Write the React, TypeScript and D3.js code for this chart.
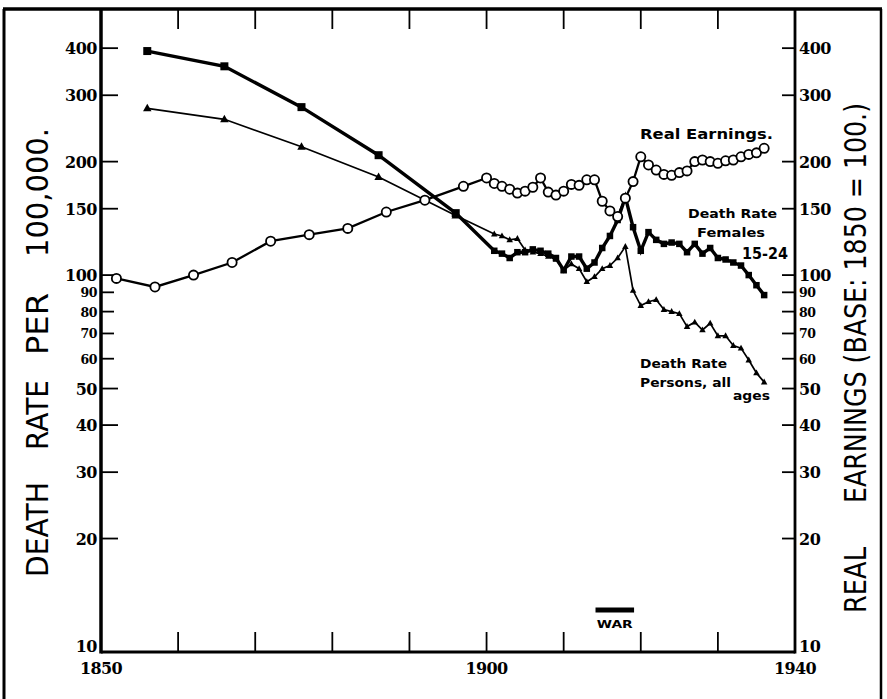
import React from 'react';
import * as d3 from 'd3';

// ---- DATA ----
const earnYears = [1852, 1857, 1862, 1867, 1872, 1877, 1882, 1887, 1892, 1897,
  1900, 1901, 1902, 1903, 1904, 1905, 1906, 1907, 1908, 1909,
  1910, 1911, 1912, 1913, 1914, 1915, 1916, 1917, 1918, 1919,
  1920, 1921, 1922, 1923, 1924, 1925, 1926, 1927, 1928, 1929,
  1930, 1931, 1932, 1933, 1934, 1935, 1936];
const earnValues = [98, 93, 100, 108, 123, 128, 133, 147, 158, 172,
  181, 175, 172, 169, 165, 167, 171, 181, 166, 163,
  167, 174, 173, 179, 179, 157, 148, 143, 160, 177,
  206, 196, 190, 185, 184, 187, 189, 200, 202, 200,
  198, 201, 202, 206, 209, 211, 217];

const deathYears = [1856, 1866, 1876, 1886, 1896,
  1901, 1902, 1903, 1904, 1905, 1906, 1907, 1908, 1909,
  1910, 1911, 1912, 1913, 1914, 1915, 1916, 1917, 1918, 1919,
  1920, 1921, 1922, 1923, 1924, 1925, 1926, 1927, 1928, 1929,
  1930, 1931, 1932, 1933, 1934, 1935, 1936];
const femalesValues = [393, 358, 279, 208, 146,
  116, 114, 111, 115, 115, 117, 116, 114, 111,
  103, 112, 112, 104, 108, 118, 127, 140, 161, 134,
  116, 130, 124, 121, 122, 121, 115, 121, 114, 118,
  111, 110, 108, 106, 100, 94, 88.5];
const personsValues = [277, 259, 219, 182, 144,
  128.5, 127, 124, 125, 116.5, 115, 114, 112, 110,
  103, 107, 104, 96, 99, 104, 106, 111, 119, 91,
  83, 85, 86, 81, 80, 79, 73, 75, 71.5, 74.5,
  69, 69, 65, 64, 59.5, 55, 52];

const yTickValues = [400, 300, 200, 150, 100, 90, 80, 70, 60, 50, 40, 30, 20, 10];
const yMinorLabelled = [90, 80, 70, 60];
const xTickYears = [1860, 1870, 1880, 1890, 1900, 1910, 1920, 1930];
const xLabelYears = [1850, 1900, 1940];
const warYears = [1914, 1919];

// ---- LAYOUT ----
const W = 887, H = 699;
const L = 101, R = 795, T = 10, B = 652;

const x = d3.scaleLinear().domain([1850, 1940]).range([L, R]);
const y = d3.scaleLog().domain([10, 505]).range([B, T]);

const numFont = '"DejaVu Serif", serif';
const handFont = '"DejaVu Sans", sans-serif';

function Triangle({ cx, cy, s }: { cx: number; cy: number; s: number }) {
  const h = s * 0.9;
  return <path d={`M${cx},${cy - h * 0.6}L${cx + s / 2},${cy + h * 0.4}L${cx - s / 2},${cy + h * 0.4}Z`} fill="#000" />;
}

export default function App() {
  const earn = earnYears.map((yr, i) => [yr, earnValues[i]] as [number, number]);
  const fem = deathYears.map((yr, i) => [yr, femalesValues[i]] as [number, number]);
  const per = deathYears.map((yr, i) => [yr, personsValues[i]] as [number, number]);
  const line = d3.line<[number, number]>().x(d => x(d[0])).y(d => y(d[1]));

  return (
    <svg width={W} height={H} style={{ position: 'absolute', left: 0, top: 0, background: '#fff' }}>
      <rect x={0} y={0} width={W} height={H} fill="#fff" />
      {/* outer frame */}
      <line x1={4} y1={9} x2={4} y2={H} stroke="#000" strokeWidth={3} />
      <line x1={881} y1={9} x2={881} y2={H} stroke="#000" strokeWidth={2.5} />
      <line x1={3} y1={9} x2={882} y2={9} stroke="#000" strokeWidth={3.5} />

      {/* plot axes */}
      <line x1={L} y1={T - 1} x2={L} y2={B + 1.5} stroke="#000" strokeWidth={3.5} />
      <line x1={R} y1={T - 1} x2={R} y2={B + 1.5} stroke="#000" strokeWidth={2.8} />
      <line x1={L} y1={B} x2={R} y2={B} stroke="#000" strokeWidth={3.2} />

      {/* x ticks top and bottom */}
      {xTickYears.map(yr => (
        <g key={yr}>
          <line x1={x(yr)} y1={T} x2={x(yr)} y2={T + 19} stroke="#000" strokeWidth={1.8} />
          <line x1={x(yr)} y1={B} x2={x(yr)} y2={B - 20} stroke="#000" strokeWidth={1.8} />
        </g>
      ))}
      {xLabelYears.map(yr => (
        <text key={yr} x={x(yr)} y={B + 22} fontFamily={numFont} fontWeight="bold" fontSize={16}
          textAnchor="middle" letterSpacing={-0.6}>{yr}</text>
      ))}

      {/* y ticks left & right */}
      {yTickValues.map(v => {
        const small = yMinorLabelled.includes(v);
        const fs = small ? 12.5 : 16;
        return (
          <g key={v}>
            {v !== 10 && <line x1={L} y1={y(v)} x2={L + (small ? 13 : 17)} y2={y(v)} stroke="#000" strokeWidth={1.8} />}
            {v !== 10 && <line x1={R} y1={y(v)} x2={R - 13} y2={y(v)} stroke="#000" strokeWidth={1.8} />}
            <text x={L - 4} y={y(v) + (v === 10 ? 0 : small ? 5 : 6)} fontFamily={numFont} fontWeight="bold" fontSize={fs}
              textAnchor="end" letterSpacing={-0.5}>{v}</text>
            <text x={R + 4} y={y(v) + (v === 10 ? 0 : small ? 5 : 6)} fontFamily={numFont} fontWeight="bold" fontSize={fs}
              textAnchor="start" letterSpacing={-0.5}>{v}</text>
          </g>
        );
      })}

      {/* series: persons all ages (thin, triangles) */}
      <path d={line(per) || ''} fill="none" stroke="#000" strokeWidth={1.7} />
      {per.map((d, i) => <Triangle key={'p' + i} cx={x(d[0])} cy={y(d[1])} s={i < 5 ? 8.5 : 6.5} />)}

      {/* series: females 15-24 (thick, squares) */}
      <path d={line(fem) || ''} fill="none" stroke="#000" strokeWidth={3.4} />
      {fem.map((d, i) => {
        const s = i < 5 ? 8 : 6.5;
        return <rect key={'f' + i} x={x(d[0]) - s / 2} y={y(d[1]) - s / 2} width={s} height={s} fill="#000" />;
      })}

      {/* series: real earnings (open circles) */}
      <path d={line(earn) || ''} fill="none" stroke="#000" strokeWidth={2.3} />
      {earn.map((d, i) => (
        <circle key={'e' + i} cx={x(d[0])} cy={y(d[1])} r={4.6} fill="#fff" stroke="#000" strokeWidth={1.8} />
      ))}

      {/* war bar */}
      <line x1={x(warYears[0]) + 1} y1={610} x2={x(warYears[1]) + 1} y2={610} stroke="#000" strokeWidth={5} />
      <text x={(x(warYears[0]) + x(warYears[1])) / 2 + 1} y={628} fontFamily={handFont} fontWeight="bold" fontSize={11}
        textAnchor="middle" textLength={36} lengthAdjust="spacingAndGlyphs">WAR</text>

      {/* series annotations */}
      <text x={640} y={139} fontFamily={handFont} fontWeight="bold" fontSize={14} textLength={133} lengthAdjust="spacingAndGlyphs">Real Earnings.</text>
      <text x={688} y={218} fontFamily={handFont} fontWeight="bold" fontSize={13} textLength={89} lengthAdjust="spacingAndGlyphs">Death Rate</text>
      <text x={697} y={237} fontFamily={handFont} fontWeight="bold" fontSize={13} textLength={68} lengthAdjust="spacingAndGlyphs">Females</text>
      <text x={742} y={259} fontFamily={handFont} fontWeight="bold" fontSize={15} textLength={46} lengthAdjust="spacingAndGlyphs">15-24</text>
      <text x={640} y={368} fontFamily={handFont} fontWeight="bold" fontSize={12.5} textLength={87} lengthAdjust="spacingAndGlyphs">Death Rate</text>
      <text x={640} y={387} fontFamily={handFont} fontWeight="bold" fontSize={12.5} textLength={91} lengthAdjust="spacingAndGlyphs">Persons, all</text>
      <text x={733} y={400} fontFamily={handFont} fontWeight="bold" fontSize={12.5} textLength={37} lengthAdjust="spacingAndGlyphs">ages</text>

      {/* axis titles */}
      <g fontFamily={handFont} fontSize={30}>
        <text transform="translate(48,577) rotate(-90)" textLength={95} lengthAdjust="spacingAndGlyphs">DEATH</text>
        <text transform="translate(48,450) rotate(-90)" textLength={70} lengthAdjust="spacingAndGlyphs">RATE</text>
        <text transform="translate(48,355) rotate(-90)" textLength={62} lengthAdjust="spacingAndGlyphs">PER</text>
        <text transform="translate(48,257) rotate(-90)" textLength={129} lengthAdjust="spacingAndGlyphs">100,000.</text>
        <text transform="translate(866,613) rotate(-90)" textLength={66} lengthAdjust="spacingAndGlyphs">REAL</text>
        <text transform="translate(866,503) rotate(-90)" textLength={400} lengthAdjust="spacingAndGlyphs">EARNINGS (BASE: 1850 = 100.)</text>
      </g>
    </svg>
  );
}
